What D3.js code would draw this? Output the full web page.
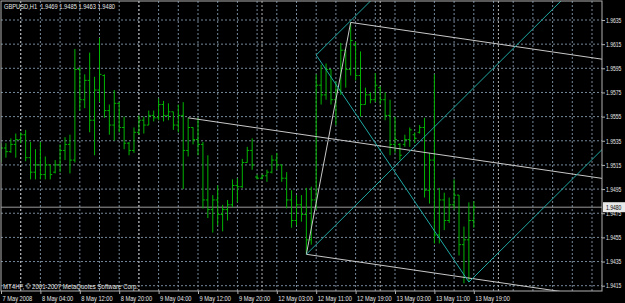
<!DOCTYPE html>
<html>
<head>
<meta charset="utf-8">
<script src="https://cdn.jsdelivr.net/npm/d3@7"></script>
<style>
  html, body { margin: 0; padding: 0; background: #000; }
  svg { display: block; }
</style>
</head>
<body>
<svg id="chart" width="625" height="303"></svg>
<script>
// ---- data ----
var symbol = "GBPUSD,H1";
var copyright = "MT4HF, \u00a9 2001-2007 MetaQuotes Software Corp.";

var timeLabels = ["7 May 2008", "8 May 04:00", "8 May 12:00", "8 May 20:00", "9 May 04:00",
  "9 May 12:00", "9 May 20:00", "12 May 03:00", "12 May 11:00", "12 May 19:00",
  "13 May 03:00", "13 May 11:00", "13 May 19:00"];
var labelBars = [0, 8, 16, 24, 32, 40, 48, 56, 64, 72, 80, 88, 96];
var daySeparators = [4, 28, 53, 77, 101];

var priceTicks = [1.9415, 1.9435, 1.9455, 1.9475, 1.9495, 1.9515, 1.9535,
  1.9555, 1.9575, 1.9595, 1.9615, 1.9635];

var barOpen = [1.9519, 1.9529, 1.9526, 1.9532, 1.9536, 1.9540, 1.9521, 1.9509, 1.9515, 1.9507,
  1.9515, 1.9509, 1.9515, 1.9527, 1.9532, 1.9519, 1.9594, 1.9569, 1.9585, 1.9552,
  1.9577, 1.9589, 1.9560, 1.9548, 1.9566, 1.9546, 1.9533, 1.9527, 1.9542, 1.9552,
  1.9548, 1.9556, 1.9554, 1.9565, 1.9556, 1.9559, 1.9548, 1.9556, 1.9527, 1.9546,
  1.9536, 1.9532, 1.9486, 1.9478, 1.9486, 1.9474, 1.9478, 1.9482, 1.9498, 1.9497,
  1.9517, 1.9527, 1.9505, 1.9504, 1.9506, 1.9509, 1.9519, 1.9515, 1.9504, 1.9486,
  1.9469, 1.9482, 1.9474, 1.9453, 1.9486, 1.9581, 1.9573, 1.9594, 1.9569, 1.9577,
  1.9610, 1.9594, 1.9614, 1.9589, 1.9565, 1.9573, 1.9569, 1.9579, 1.9569, 1.9556,
  1.9532, 1.9532, 1.9532, 1.9536, 1.9540, 1.9542, 1.9546, 1.9494, 1.9519, 1.9457,
  1.9486, 1.9469, 1.9482, 1.9490, 1.9449, 1.9453, 1.9469];
var barHigh = [1.9533, 1.9533, 1.9537, 1.9541, 1.9542, 1.9544, 1.9534, 1.9528, 1.9534, 1.9522,
  1.9515, 1.9519, 1.9532, 1.9538, 1.9540, 1.9611, 1.9596, 1.9590, 1.9608, 1.9588,
  1.9620, 1.9590, 1.9565, 1.9577, 1.9567, 1.9555, 1.9534, 1.9546, 1.9556, 1.9555,
  1.9560, 1.9560, 1.9570, 1.9568, 1.9566, 1.9559, 1.9565, 1.9567, 1.9554, 1.9546,
  1.9554, 1.9534, 1.9523, 1.9490, 1.9498, 1.9482, 1.9486, 1.9503, 1.9504, 1.9520,
  1.9530, 1.9537, 1.9507, 1.9507, 1.9511, 1.9523, 1.9525, 1.9515, 1.9509, 1.9494,
  1.9490, 1.9490, 1.9496, 1.9497, 1.9590, 1.9598, 1.9599, 1.9594, 1.9584, 1.9616,
  1.9610, 1.9633, 1.9617, 1.9609, 1.9579, 1.9575, 1.9591, 1.9580, 1.9575, 1.9569,
  1.9555, 1.9533, 1.9540, 1.9546, 1.9542, 1.9548, 1.9554, 1.9525, 1.9590, 1.9496,
  1.9492, 1.9488, 1.9503, 1.9490, 1.9464, 1.9484, 1.9485];
var barLow = [1.9517, 1.9521, 1.9525, 1.9521, 1.9533, 1.9518, 1.9503, 1.9503, 1.9503, 1.9503,
  1.9503, 1.9508, 1.9509, 1.9519, 1.9508, 1.9517, 1.9560, 1.9562, 1.9542, 1.9523,
  1.9567, 1.9554, 1.9540, 1.9535, 1.9542, 1.9528, 1.9523, 1.9525, 1.9540, 1.9541,
  1.9548, 1.9551, 1.9552, 1.9551, 1.9552, 1.9544, 1.9542, 1.9495, 1.9522, 1.9532,
  1.9523, 1.9479, 1.9471, 1.9459, 1.9465, 1.9460, 1.9469, 1.9480, 1.9484, 1.9496,
  1.9517, 1.9511, 1.9503, 1.9503, 1.9501, 1.9508, 1.9511, 1.9501, 1.9479, 1.9463,
  1.9465, 1.9468, 1.9441, 1.9449, 1.9478, 1.9565, 1.9569, 1.9565, 1.9548, 1.9573,
  1.9579, 1.9589, 1.9585, 1.9555, 1.9565, 1.9566, 1.9567, 1.9565, 1.9552, 1.9523,
  1.9525, 1.9519, 1.9530, 1.9530, 1.9533, 1.9541, 1.9488, 1.9483, 1.9450, 1.9450,
  1.9461, 1.9467, 1.9478, 1.9440, 1.9417, 1.9418, 1.9463];
var barClose = [1.9529, 1.9526, 1.9532, 1.9536, 1.9540, 1.9521, 1.9509, 1.9515, 1.9507, 1.9515,
  1.9507, 1.9515, 1.9527, 1.9532, 1.9519, 1.9594, 1.9569, 1.9585, 1.9552, 1.9577,
  1.9590, 1.9560, 1.9548, 1.9566, 1.9546, 1.9533, 1.9527, 1.9542, 1.9552, 1.9548,
  1.9556, 1.9554, 1.9565, 1.9556, 1.9559, 1.9548, 1.9556, 1.9527, 1.9546, 1.9536,
  1.9532, 1.9486, 1.9478, 1.9486, 1.9474, 1.9478, 1.9482, 1.9498, 1.9497, 1.9517,
  1.9527, 1.9515, 1.9504, 1.9506, 1.9509, 1.9519, 1.9515, 1.9504, 1.9486, 1.9469,
  1.9482, 1.9474, 1.9453, 1.9486, 1.9581, 1.9573, 1.9594, 1.9569, 1.9577, 1.9610,
  1.9594, 1.9618, 1.9589, 1.9565, 1.9573, 1.9569, 1.9581, 1.9569, 1.9556, 1.9532,
  1.9536, 1.9523, 1.9536, 1.9544, 1.9537, 1.9546, 1.9494, 1.9519, 1.9457, 1.9486,
  1.9469, 1.9482, 1.9490, 1.9449, 1.9453, 1.9469, 1.9480];

var bidPrice = 1.9480;

// Andrews pitchforks: [handle, upper, lower] as bar index + price
var whiteForkBars = [38, 71, 62];
var whiteForkPrices = [1.9554, 1.9633, 1.9441];
var cyanForkBars = [62, 64, 95];
var cyanForkPrices = [1.9441, 1.9606, 1.9418];

// ---- layout ----
var W = 625, H = 303;
var plotL = 1, plotR = 602, plotT = 1, plotB = 291;
var barStep = 4.925;
var lastSlot = 122;

var fontFam = "'Liberation Sans', Arial, sans-serif";
var gridColor = "#778899";
var textColor = "#e6e6e6";
var barColor = "#00b400";

var svg = d3.select("#chart");
svg.append("rect").attr("width", W).attr("height", H).attr("fill", "#000");

var x = d3.scaleLinear().domain([0, lastSlot]).range([plotL, plotL + lastSlot * barStep]);
var y = d3.scaleLinear().domain([1.9415, 1.9635]).range([285.7, 20]);

svg.append("clipPath").attr("id", "plotclip")
  .append("rect").attr("x", plotL).attr("y", plotT).attr("width", plotR - plotL).attr("height", plotB - plotT);

// grid
var grid = svg.append("g").attr("clip-path", "url(#plotclip)");
grid.selectAll(".hgrid").data(priceTicks).enter().append("line")
  .attr("class", "hgrid")
  .attr("x1", plotL).attr("x2", plotR)
  .attr("y1", function(d) { return y(d); }).attr("y2", function(d) { return y(d); })
  .attr("stroke", gridColor).attr("stroke-dasharray", "2,2");

grid.selectAll(".vgrid").data(d3.range(4, lastSlot + 1, 4)).enter().append("line")
  .attr("class", "vgrid")
  .attr("x1", function(d) { return x(d); }).attr("x2", function(d) { return x(d); })
  .attr("y1", plotT).attr("y2", plotB)
  .attr("stroke", gridColor).attr("stroke-dasharray", "2,2");

// period separators (midnight)
grid.selectAll(".sep").data(daySeparators).enter().append("line")
  .attr("class", "sep")
  .attr("x1", function(d) { return x(d); }).attr("x2", function(d) { return x(d); })
  .attr("y1", plotT).attr("y2", plotB)
  .attr("stroke", "#b4b4b4").attr("stroke-dasharray", "2,2");

// bid line
grid.append("line")
  .attr("x1", plotL).attr("x2", plotR)
  .attr("y1", y(bidPrice)).attr("y2", y(bidPrice))
  .attr("stroke", "#9a9a9a");

// OHLC bars
var bars = svg.append("g").attr("clip-path", "url(#plotclip)")
  .attr("stroke", barColor).attr("stroke-width", 1);
var barG = bars.selectAll(".bar").data(d3.range(barOpen.length)).enter().append("g").attr("class", "bar");
barG.append("line")
  .attr("x1", function(i) { return x(i); }).attr("x2", function(i) { return x(i); })
  .attr("y1", function(i) { return y(barHigh[i]); }).attr("y2", function(i) { return y(barLow[i]); });
barG.append("line")
  .attr("x1", function(i) { return x(i) - 2; }).attr("x2", function(i) { return x(i); })
  .attr("y1", function(i) { return y(barOpen[i]); }).attr("y2", function(i) { return y(barOpen[i]); });
barG.append("line")
  .attr("x1", function(i) { return x(i); }).attr("x2", function(i) { return x(i) + 2; })
  .attr("y1", function(i) { return y(barClose[i]); }).attr("y2", function(i) { return y(barClose[i]); });

// pitchforks
function pitchfork(b, p, color) {
  var midB = (b[1] + b[2]) / 2, midP = (p[1] + p[2]) / 2;
  var slope = (midP - p[0]) / (midB - b[0]);
  var far = 250;
  var g = svg.append("g").attr("clip-path", "url(#plotclip)")
    .attr("stroke", color).attr("stroke-width", 1).attr("fill", "none");
  [0, 1, 2].forEach(function(k) {
    g.append("line")
      .attr("x1", x(b[k])).attr("y1", y(p[k]))
      .attr("x2", x(far)).attr("y2", y(p[k] + slope * (far - b[k])));
  });
  g.append("line")
    .attr("x1", x(b[1])).attr("y1", y(p[1]))
    .attr("x2", x(b[2])).attr("y2", y(p[2]));
}
pitchfork(whiteForkBars, whiteForkPrices, "#c8c8c8");
pitchfork(cyanForkBars, cyanForkPrices, "#1fa8a4");

// frame
svg.append("rect")
  .attr("x", plotL).attr("y", plotT).attr("width", plotR - plotL).attr("height", plotB - plotT)
  .attr("fill", "none").attr("stroke", "#b0b0b0");

// squeeze text to the narrow MT4 font widths
function squeeze(sel, factor) {
  sel.each(function() {
    var len = this.getComputedTextLength();
    d3.select(this).attr("textLength", len * factor).attr("lengthAdjust", "spacingAndGlyphs");
  });
}

// price axis
var yAxisG = svg.append("g")
  .attr("transform", "translate(" + plotR + ",0)")
  .call(d3.axisRight(y).tickValues(priceTicks).tickFormat(d3.format(".4f")).tickSize(3).tickPadding(1));
yAxisG.select(".domain").remove();
yAxisG.selectAll(".tick line").attr("stroke", "#b0b0b0");
yAxisG.selectAll("text")
  .attr("fill", textColor)
  .style("font-family", fontFam).style("font-size", "7px");
squeeze(yAxisG.selectAll("text"), 0.72);

// bid price box
svg.append("rect")
  .attr("x", plotR + 1).attr("y", y(bidPrice) - 5)
  .attr("width", W - plotR - 1).attr("height", 10)
  .attr("fill", "#e8e8e8");
var bidText = svg.append("text")
  .attr("x", plotR + 4).attr("y", y(bidPrice) + 2.5)
  .attr("fill", "#000")
  .style("font-family", fontFam).style("font-size", "7px")
  .text(d3.format(".4f")(bidPrice));
squeeze(bidText, 0.72);

// time axis
var xAxisG = svg.append("g")
  .attr("transform", "translate(0," + plotB + ")")
  .call(d3.axisBottom(x).tickValues(labelBars)
    .tickFormat(function(d, i) { return timeLabels[i]; }).tickSize(3));
xAxisG.select(".domain").remove();
xAxisG.selectAll(".tick line").attr("stroke", "#b0b0b0");
xAxisG.selectAll("text")
  .attr("fill", textColor)
  .attr("text-anchor", "start")
  .attr("x", 1).attr("y", 10).attr("dy", null)
  .style("font-family", fontFam).style("font-size", "7.5px");
squeeze(xAxisG.selectAll("text"), 0.76);

// header + copyright
var lastBar = barOpen.length - 1;
var header = svg.append("text")
  .attr("x", 4).attr("y", 9)
  .attr("fill", textColor)
  .style("font-family", fontFam).style("font-size", "7.5px")
  .attr("xml:space", "preserve")
  .text(symbol + "  " + [barOpen[lastBar], barHigh[lastBar], barLow[lastBar], barClose[lastBar]]
    .map(d3.format(".4f")).join(" "));
header.attr("textLength", 111).attr("lengthAdjust", "spacingAndGlyphs");

svg.append("text")
  .attr("x", 3).attr("y", 289)
  .attr("fill", textColor)
  .style("font-family", fontFam).style("font-size", "7.5px")
  .attr("textLength", 135).attr("lengthAdjust", "spacingAndGlyphs")
  .text(copyright);
</script>
</body>
</html>
